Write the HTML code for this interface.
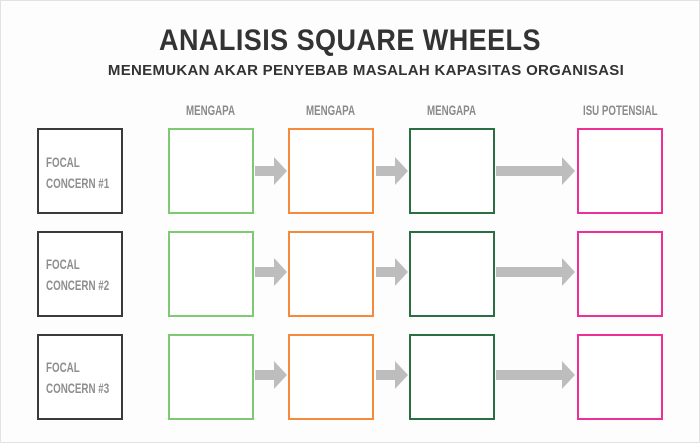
<!DOCTYPE html>
<html><head><style>
body{margin:0;width:700px;height:443px;background:#fff;overflow:hidden;font-family:"Liberation Sans",sans-serif;position:relative}
.frame{position:absolute;left:0;top:0;width:698px;height:441px;border:1px solid #e2e2e2;background:#fdfdfd}
.t{position:absolute;left:0;width:700px;text-align:center;color:#333;font-weight:bold}
.b{position:absolute;width:82px;height:82px;border:2px solid;background:#fff}
.h{position:absolute;top:103px;font-size:13.5px;font-weight:bold;color:#8a8a8a;transform:scaleX(0.72);transform-origin:left;letter-spacing:0}
.f{position:absolute;left:46px;font-size:14px;font-weight:bold;color:#8e8e8e;line-height:21px;transform:scaleX(0.7);transform-origin:left}
</style></head><body>
<div class="frame"></div>
<div class="t" style="top:24px;font-size:30px;letter-spacing:0.5px;transform:scaleX(0.9)">ANALISIS SQUARE WHEELS</div>
<div class="t" style="top:62px;font-size:15px;left:16px;letter-spacing:0.3px">MENEMUKAN AKAR PENYEBAB MASALAH KAPASITAS ORGANISASI</div>
<div class="h" style="left:186px">MENGAPA</div>
<div class="h" style="left:306px">MENGAPA</div>
<div class="h" style="left:427px">MENGAPA</div>
<div class="h" style="left:583px">ISU POTENSIAL</div>
<svg width="700" height="443" style="position:absolute;left:0;top:0">
<g fill="#bdbdbd">
<g id="r1">
<path d="M255 166h19v-9l13 14-13 14v-9h-19z"/>
<path d="M376 166h19v-9l13 14-13 14v-9h-19z"/>
<path d="M496 166h66v-9l13 14-13 14v-9h-66z"/>
</g>
<use href="#r1" y="101"/>
<use href="#r1" y="204"/>
</g>
</svg>
<div class="b" style="left:37px;top:128px;border-color:#3a3a3a"></div>
<div class="b" style="left:168px;top:128px;border-color:#7dca72"></div>
<div class="b" style="left:288px;top:128px;border-color:#f58a3a"></div>
<div class="b" style="left:409px;top:128px;border-color:#2a6e44"></div>
<div class="b" style="left:577px;top:128px;border-color:#ee2f97"></div>
<div class="b" style="left:37px;top:231px;border-color:#3a3a3a"></div>
<div class="b" style="left:168px;top:231px;border-color:#7dca72"></div>
<div class="b" style="left:288px;top:231px;border-color:#f58a3a"></div>
<div class="b" style="left:409px;top:231px;border-color:#2a6e44"></div>
<div class="b" style="left:577px;top:231px;border-color:#ee2f97"></div>
<div class="b" style="left:37px;top:334px;border-color:#3a3a3a"></div>
<div class="b" style="left:168px;top:334px;border-color:#7dca72"></div>
<div class="b" style="left:288px;top:334px;border-color:#f58a3a"></div>
<div class="b" style="left:409px;top:334px;border-color:#2a6e44"></div>
<div class="b" style="left:577px;top:334px;border-color:#ee2f97"></div>
<div class="f" style="top:152px">FOCAL<br>CONCERN #1</div>
<div class="f" style="top:254px">FOCAL<br>CONCERN #2</div>
<div class="f" style="top:357px">FOCAL<br>CONCERN #3</div>
</body></html>
